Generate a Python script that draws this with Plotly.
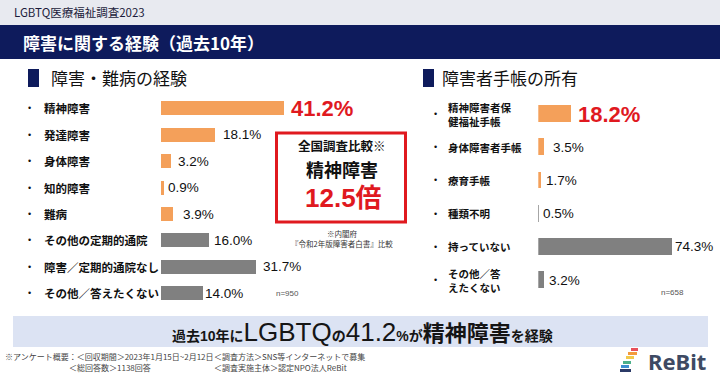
import plotly.graph_objects as go

# ---------------- data ----------------
header_text = "LGBTQ医療福祉調査2023"
title_text = "障害に関する経験（過去10年）"
left_title = "障害・難病の経験"
right_title = "障害者手帳の所有"

left_labels = ["精神障害", "発達障害", "身体障害", "知的障害", "難病",
               "その他の定期的通院", "障害／定期的通院なし", "その他／答えたくない"]
left_values = [41.2, 18.1, 3.2, 0.9, 3.9, 16.0, 31.7, 14.0]
left_n = "n=950"

right_labels = ["精神障害者保<br>健福祉手帳", "身体障害者手帳", "療育手帳", "種類不明",
                "持っていない", "その他／答<br>えたくない"]
right_values = [18.2, 3.5, 1.7, 0.5, 74.3, 3.2]
right_n = "n=658"

box_lines = ["全国調査比較※", "精神障害", "12.5倍"]
box_note = ["※内閣府", "『令和2年版障害者白書』比較"]
banner_parts = ["過去10年に", "LGBTQ", "の", "41.2", "%が", "精神障害", "を経験"]
footer_a = ["※アンケート概要：＜回収期間＞2023年1月15日~2月12日", "＜総回答数＞1138回答"]
footer_b = ["＜調査方法＞SNS等インターネットで募集", "＜調査実施主体＞認定NPO法人ReBit"]
logo_text = "ReBit"

# ---------------- style ----------------
W, H = 720, 378
NAVY = "#0E1B5C"
ORANGE = "#F4A05A"
GRAY = "#808080"
RED = "#E0191F"
JP = "Noto Sans CJK JP"
NUM = "Liberation Sans, Noto Sans CJK JP"

left_colors = [ORANGE] * 5 + [GRAY] * 3
right_colors = [ORANGE] * 3 + [GRAY] * 3
left_shift = [6, 7, 6, 3, 9, 4, 6, 1]
right_shift = [6, 7, 4, 3, 2, 4]


def px(x):
    return x / W


def py(y):
    return 1 - y / H


fig = go.Figure()
fig.add_trace(go.Bar(x=left_values, y=left_labels, orientation="h",
                     marker=dict(color=left_colors, line=dict(width=0)),
                     width=0.53, xaxis="x", yaxis="y", hoverinfo="skip"))
fig.add_trace(go.Bar(x=right_values, y=right_labels, orientation="h",
                     marker=dict(color=right_colors, line=dict(width=0)),
                     width=0.51, xaxis="x2", yaxis="y2", hoverinfo="skip"))

shapes = []
ann = []

# bands
shapes.append(dict(type="rect", xref="paper", yref="paper", x0=0, x1=1, y0=py(25), y1=1,
                   fillcolor="#E8EAF0", line=dict(width=0), layer="below"))
shapes.append(dict(type="rect", xref="paper", yref="paper", x0=0, x1=1, y0=py(59), y1=py(25),
                   fillcolor=NAVY, line=dict(width=0), layer="below"))
ann.append(dict(text=header_text, x=px(12), y=py(12.5), xanchor="left", yanchor="middle",
                font=dict(family=JP, size=11.5, color="#1B1B3A")))
ann.append(dict(text="<b>" + title_text + "</b>", x=px(21), y=py(42), xanchor="left", yanchor="middle",
                font=dict(family=JP, size=17, color="white")))

# section titles
for (sx, tx, t) in [(28, 50, left_title), (423, 441, right_title)]:
    shapes.append(dict(type="rect", xref="paper", yref="paper", x0=px(sx), x1=px(sx + 11),
                       y0=py(87), y1=py(69), fillcolor=NAVY, line=dict(width=0)))
    ann.append(dict(text=t, x=px(tx - 1), y=py(77.5), xanchor="left", yanchor="middle",
                    font=dict(family=JP, size=17, color="#111111")))

# left labels & values
for i, (lab, v) in enumerate(zip(left_labels, left_values)):
    ann.append(dict(text="•", x=px(29), y=lab, yref="y", xanchor="center", yanchor="middle",
                    font=dict(family=NUM, size=9, color="#111111")))
    ann.append(dict(text="<b>" + lab + "</b>", x=px(42), y=lab, yref="y", xanchor="left",
                    yanchor="middle", font=dict(family=JP, size=11.5, color="#111111")))
    if i == 0:
        f = dict(family=NUM, size=22, color=RED, weight="bold")
    else:
        f = dict(family=NUM, size=13.5, color="#111111")
    ann.append(dict(text=f"{v:.1f}%", x=v, xref="x", y=lab, yref="y", xanchor="left",
                    yanchor="middle", xshift=left_shift[i] - 1, font=f))

# right labels & values
for i, (lab, v) in enumerate(zip(right_labels, right_values)):
    ann.append(dict(text="•", x=px(435), y=lab, yref="y2", xanchor="center", yanchor="middle",
                    font=dict(family=NUM, size=9, color="#111111")))
    ann.append(dict(text="<b>" + lab + "</b>", x=px(446), y=lab, yref="y2", xanchor="left",
                    yanchor="middle", align="left", font=dict(family=JP, size=10.5, color="#111111")))
    if i == 0:
        f = dict(family=NUM, size=22, color=RED, weight="bold")
    else:
        f = dict(family=NUM, size=13.5, color="#111111")
    ann.append(dict(text=f"{v:.1f}%", x=v, xref="x2", y=lab, yref="y2", xanchor="left",
                    yanchor="middle", xshift=right_shift[i] - 1, font=f))

# n labels
ann.append(dict(text=left_n, x=px(274), y=py(293), xanchor="left", yanchor="middle",
                font=dict(family=NUM, size=8, color="#555555")))
ann.append(dict(text=right_n, x=px(659), y=py(292), xanchor="left", yanchor="middle",
                font=dict(family=NUM, size=8, color="#555555")))

# center box
shapes.append(dict(type="rect", xref="paper", yref="paper", x0=px(276.5), x1=px(405.5),
                   y0=py(222), y1=py(133), line=dict(color=RED, width=3), fillcolor="white"))
ann.append(dict(text="<b>" + box_lines[0] + "</b>", x=px(342), y=py(145), xanchor="center", yanchor="middle",
                font=dict(family=JP, size=12.5, color="#111111")))
ann.append(dict(text="<b>" + box_lines[1] + "</b>", x=px(342), y=py(169), xanchor="center", yanchor="middle",
                font=dict(family=JP, size=18, color="#111111")))
ann.append(dict(text="<b>" + box_lines[2] + "</b>", x=px(343), y=py(198), xanchor="center", yanchor="middle",
                font=dict(family=NUM, size=26, color=RED)))
ann.append(dict(text=box_note[0], x=px(342), y=py(233), xanchor="center", yanchor="middle",
                font=dict(family=JP, size=7.5, color="#333333")))
ann.append(dict(text=box_note[1], x=px(342), y=py(243), xanchor="center", yanchor="middle",
                font=dict(family=JP, size=7.5, color="#333333")))

# banner
shapes.append(dict(type="rect", xref="paper", yref="paper", x0=px(13), x1=px(708), y0=py(347), y1=py(316),
                   fillcolor="#DCE3F3", line=dict(width=0), layer="below"))
bp = banner_parts
banner = (f"<b>{bp[0]}</b><span style='font-size:26px'>{bp[1]}</span><b>{bp[2]}</b>"
          f"<span style='font-size:26px'>{bp[3]}</span><b>{bp[4]}</b>"
          f"<b><span style='font-size:22px'>{bp[5]}</span></b><b>{bp[6]}</b>")
ann.append(dict(text=banner, x=px(362), y=py(332), xanchor="center", yanchor="middle",
                font=dict(family=NUM, size=14, color="#151515")))

# footer
ann.append(dict(text=footer_a[0], x=px(3), y=py(356), xanchor="left", yanchor="middle",
                font=dict(family=JP, size=8, color="#444444")))
ann.append(dict(text=footer_a[1], x=px(67), y=py(367), xanchor="left", yanchor="middle",
                font=dict(family=JP, size=8, color="#444444")))
ann.append(dict(text=footer_b[0], x=px(212), y=py(356), xanchor="left", yanchor="middle",
                font=dict(family=JP, size=8, color="#444444")))
ann.append(dict(text=footer_b[1], x=px(212), y=py(367), xanchor="left", yanchor="middle",
                font=dict(family=JP, size=8, color="#444444")))

# logo
stripes = [(631, 638, 348, 351, "#E8505B"), (628, 637, 352, 355, "#F39A3C"), (626, 634, 356, 359, "#F2C94C"),
           (623, 631, 361, 364, "#4CB08A"), (621, 629, 365, 368, "#3E8ED0"), (620, 631, 369, 372, "#2B3A67")]
for x0, x1, y0, y1, c in stripes:
    shapes.append(dict(type="rect", xref="paper", yref="paper", x0=px(x0), x1=px(x1), y0=py(y1), y1=py(y0),
                       fillcolor=c, line=dict(width=0)))
ann.append(dict(text="<b>" + logo_text + "</b>", x=px(646), y=py(361), xanchor="left", yanchor="middle",
                font=dict(family="Noto Sans", size=22, color="#3E4A63")))

for a in ann:
    a.setdefault("xref", "paper")
    a.setdefault("yref", "paper")
    a["showarrow"] = False

lx0 = 161
ls = 2.985
rx0 = 538.3
rs = 1.8
fig.update_layout(
    width=W, height=H, margin=dict(l=0, r=0, t=0, b=0),
    paper_bgcolor="white", plot_bgcolor="rgba(0,0,0,0)",
    showlegend=False, bargap=0,
    xaxis=dict(domain=[px(lx0), px(lx0 + ls * 50)], range=[0, 50], visible=False, fixedrange=True),
    yaxis=dict(domain=[py(95.1 + 26.43 * 8), py(95.1)], type="category",
               range=[7.5, -0.5], visible=False, fixedrange=True),
    xaxis2=dict(domain=[px(rx0), px(rx0 + rs * 80)], range=[0, 80], visible=False, fixedrange=True, anchor="y2"),
    yaxis2=dict(domain=[py(97.4 + 33.2 * 6), py(97.4)], type="category",
                range=[5.5, -0.5], visible=False, fixedrange=True, anchor="x2"),
    shapes=shapes, annotations=ann,
)

fig.write_html("out.html", config={"displayModeBar": False},
               post_script="document.body.style.margin='0';document.body.style.padding='0';")
